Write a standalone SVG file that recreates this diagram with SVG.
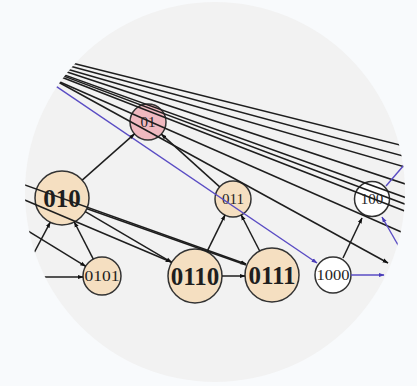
<svg xmlns="http://www.w3.org/2000/svg" width="417" height="386" viewBox="0 0 417 386">
<defs>
<style>
.n{stroke:#333;stroke-width:1.5}
.p{fill:#f5dfc1}
.k{fill:#f0b9c0}
.w{fill:#ffffff}
.e{stroke:#1e1e1e;stroke-width:1.5;fill:none}
.b{stroke:#5a4cc4;stroke-width:1.4;fill:none}
.t{font-family:"Liberation Serif","DejaVu Serif",serif;fill:#1e1e1e;text-anchor:middle}
.s{font-size:15px}
.L{font-size:25px;font-weight:bold}
</style>
<marker id="a" viewBox="0 0 10 10" refX="9" refY="5" markerWidth="6" markerHeight="6" markerUnits="userSpaceOnUse" orient="auto"><path d="M0,1.5 L10,5 L0,8.5 z" fill="#111"/></marker>
<marker id="ab" viewBox="0 0 10 10" refX="9" refY="5" markerWidth="6" markerHeight="6" markerUnits="userSpaceOnUse" orient="auto"><path d="M0,1.5 L10,5 L0,8.5 z" fill="#4a3db8"/></marker>
<clipPath id="c"><circle cx="215" cy="192" r="190"/></clipPath>
</defs>
<rect width="417" height="386" fill="#f8fafc"/>
<circle cx="215" cy="192" r="190" fill="#f2f2f2"/>
<g clip-path="url(#c)">
<g id="nodes">
<g id="n01"><circle class="n k" cx="148" cy="122" r="18"/><text class="t s" x="148" y="127">01</text></g>
<g id="n010"><circle class="n p" cx="62" cy="198" r="27"/><text class="t L" x="62" y="207">010</text></g>
<g id="n011"><circle class="n p" cx="233" cy="199" r="18"/><text class="t s" x="233" y="204">011</text></g>
<g id="n100"><circle class="n w" cx="372" cy="199" r="17.5"/><text class="t s" x="372" y="204">100</text></g>
<g id="n0101"><circle class="n p" cx="102" cy="276" r="19"/><text class="t s" x="102" y="281" textLength="35" lengthAdjust="spacingAndGlyphs">0101</text></g>
<g id="n0110"><circle class="n p" cx="195" cy="276" r="27"/><text class="t L" x="195" y="285">0110</text></g>
<g id="n0111"><circle class="n p" cx="272" cy="275" r="27"/><text class="t L" x="272" y="284">0111</text></g>
<g id="n1000"><circle class="n w" cx="333" cy="275" r="18"/><text class="t s" x="333" y="280" textLength="33" lengthAdjust="spacingAndGlyphs">1000</text></g>
</g>
<g id="connectors">
<line class="e" x1="40" y1="55" x2="415" y2="148.75"/>
<line class="e" x1="40" y1="58" x2="415" y2="159.2"/>
<line class="e" x1="40" y1="61.3" x2="415" y2="169.8"/>
<line class="e" x1="40" y1="63" x2="415" y2="187.2"/>
<line class="e" x1="40" y1="66.1" x2="415" y2="201"/>
<line class="e" x1="40" y1="67.1" x2="415" y2="207.9"/>
<line class="e" x1="40" y1="68.8" x2="415" y2="215"/>
<line class="e" x1="40" y1="73.2" x2="415" y2="238"/>
<line class="e" x1="40" y1="72" x2="388" y2="263" marker-end="url(#a)"/>
<line class="b" x1="30" y1="68.7" x2="317" y2="263" marker-end="url(#ab)"/>
<line class="b" x1="410" y1="158" x2="386" y2="186"/>
<line class="b" x1="402" y1="252" x2="382" y2="217" marker-end="url(#ab)"/>
<line class="b" x1="351" y1="275" x2="384" y2="275" marker-end="url(#ab)"/>
<line class="e" x1="82.2" y1="180.1" x2="134.5" y2="133.9" marker-end="url(#a)"/>
<line class="e" x1="219.7" y1="186.9" x2="161.3" y2="134.1" marker-end="url(#a)"/>
<line class="e" x1="206.9" y1="251.8" x2="225" y2="215.1" marker-end="url(#a)"/>
<line class="e" x1="259.7" y1="251" x2="241.2" y2="215" marker-end="url(#a)"/>
<line class="e" x1="222" y1="276" x2="245" y2="276" marker-end="url(#a)"/>
<line class="e" x1="93.3" y1="259.1" x2="74.3" y2="222" marker-end="url(#a)"/>
<line class="e" x1="20" y1="226" x2="85.7" y2="266.3" marker-end="url(#a)"/>
<line class="e" x1="25" y1="277" x2="83" y2="277" marker-end="url(#a)"/>
<line class="e" x1="25" y1="270" x2="50.2" y2="222.3" marker-end="url(#a)"/>
<line class="e" x1="85.3" y1="211.7" x2="171.7" y2="262.3" marker-end="url(#a)"/>
<line class="e" x1="20" y1="198" x2="171" y2="262" marker-end="url(#a)"/>
<line class="e" x1="18" y1="182.5" x2="246" y2="264" marker-end="url(#a)"/>
<line class="e" x1="87" y1="208.8" x2="246" y2="265"/>
<line class="e" x1="343" y1="258" x2="362" y2="218" marker-end="url(#a)"/>
</g>
</g>
</svg>
